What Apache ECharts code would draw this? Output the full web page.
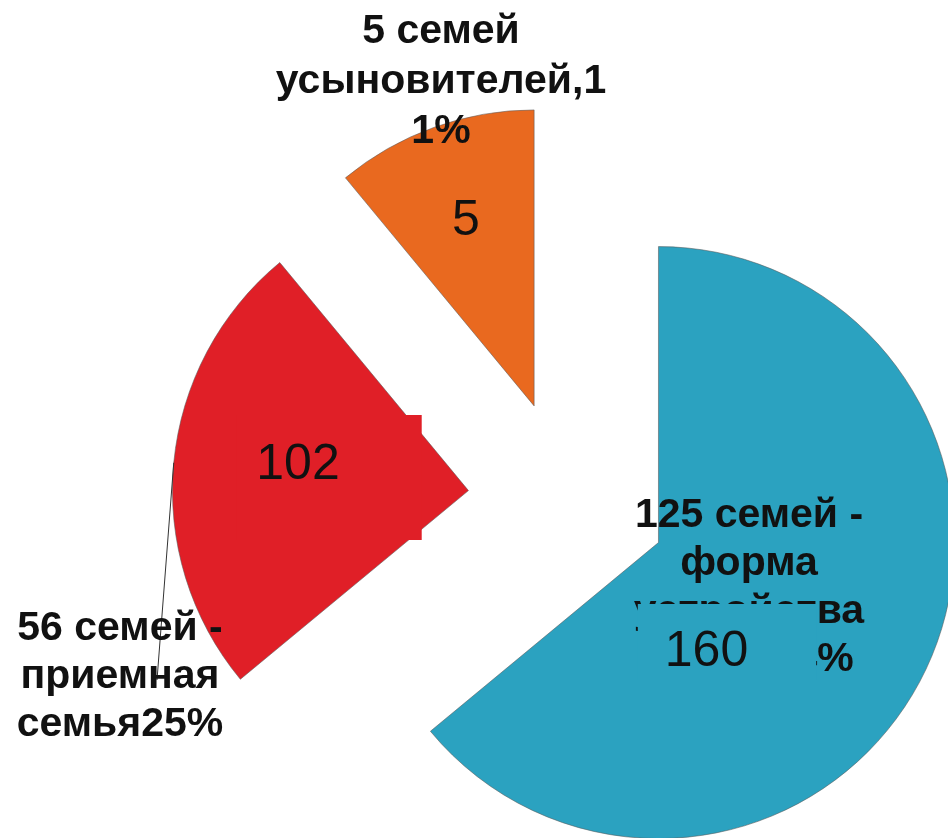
<!DOCTYPE html>
<html>
<head>
<meta charset="utf-8">
<title>Формы устройства</title>
<script src="https://cdn.jsdelivr.net/npm/echarts@6/dist/echarts.min.js"></script>
<style>
  html, body { margin: 0; padding: 0; background: #fff; }
  #main { width: 948px; height: 838px; }
</style>
</head>
<body>
<div id="main"></div>
<script>
// подписи секторов (переносы как на картинке)
const categories = [
  "125 семей -\nформа\nустройства\nопека 64%",
  "56 семей -\nприемная\nсемья25%",
  "5 семей\nусыновителей,1\n1%"
];
// доля сектора, %
const shares = [64, 25, 11];
// числа внутри секторов
const counts = [160, 102, 5];

const colors = ["#2ba2c0", "#e01f27", "#e9691f"];

// центры текстовых подписей
const outerLabelPos = [[749, 588], [120, 677], [441, 82]];
const outerLineHeight = [48, 48, 50];
// числа: x центра, y верхнего края фона
const innerLabelPos = [[727, 604], [329, 415], [466, 197]];
// фон у чисел цвета сектора (перекрывает подпись, как в исходнике)
const innerLabelBox = [
  { backgroundColor: colors[0], padding: [24, 68, 4, 27] },
  { backgroundColor: colors[1], padding: [26, 82, 51, 20] },
  { padding: 0 }
];
const leaderEnd = [157, 680];

const pieCenter = [568, 500];
const pieRadius = 296;
const explode = 100;

const font = "'Liberation Sans', Arial, sans-serif";

// сдвиг выдвинутого сектора (по середине его угла)
const total = shares.reduce((a, b) => a + b, 0);
let acc = 0;
const shift = shares.map(v => {
  let mid = (acc + v / 2) / total * Math.PI * 2;
  acc += v;
  return [explode * Math.sin(mid), -explode * Math.cos(mid)];
});

let chart = echarts.init(document.getElementById('main'), null, { renderer: 'canvas' });

const pieBase = {
  type: 'pie',
  center: pieCenter,
  radius: pieRadius,
  startAngle: 90,
  clockwise: true,
  avoidLabelOverlap: false,
  animation: false,
  emphasis: { disabled: true }
};

const clear = 'rgba(0,0,0,0)';

let option = {
  backgroundColor: '#fff',
  animation: false,
  series: [
    //сектора (выдвинуты все)
    Object.assign({}, pieBase, {
      name: 'sectors',
      z: 2,
      selectedMode: 'multiple',
      selectedOffset: explode,
      itemStyle: { borderColor: 'rgba(90,90,90,0.55)', borderWidth: 1 },
      select: { itemStyle: { borderColor: 'rgba(90,90,90,0.55)', borderWidth: 1 } },
      label: { show: false },
      labelLine: { show: false },
      data: categories.map((name, i) => ({
        name: name,
        value: shares[i],
        selected: true,
        itemStyle: { color: colors[i] }
      }))
    }),
    //текстовые подписи
    Object.assign({}, pieBase, {
      name: 'labels',
      z: 3,
      silent: true,
      itemStyle: { color: clear },
      label: {
        show: true,
        position: 'outside',
        formatter: '{b}',
        fontFamily: font,
        fontSize: 41,
        fontWeight: 'bold',
        color: '#111'
      },
      labelLine: {
        show: false,
        length: 10,
        length2: 10,
        lineStyle: { color: '#333', width: 1 }
      },
      labelLayout: function (params) {
        let i = params.dataIndex;
        let p = outerLabelPos[i];
        let res = { x: p[0], y: p[1], align: 'center', verticalAlign: 'middle' };
        if (i === 1 && params.labelLinePoints) {
          let a = params.labelLinePoints[0];
          let s = [a[0] + shift[i][0], a[1] + shift[i][1]];
          res.labelLinePoints = [s, s, leaderEnd];
        }
        return res;
      },
      data: categories.map((name, i) => ({
        name: name,
        value: shares[i],
        label: { lineHeight: outerLineHeight[i] },
        labelLine: { show: i === 1 }
      }))
    }),
    //числа внутри
    Object.assign({}, pieBase, {
      name: 'numbers',
      z: 4,
      silent: true,
      itemStyle: { color: clear },
      label: {
        show: true,
        position: 'inside',
        fontFamily: font,
        fontSize: 50,
        lineHeight: 48,
        color: '#111'
      },
      labelLine: { show: false },
      labelLayout: function (params) {
        let p = innerLabelPos[params.dataIndex];
        return { x: p[0], y: p[1], align: 'center', verticalAlign: 'top' };
      },
      data: categories.map((name, i) => ({
        name: name,
        value: shares[i],
        label: Object.assign({ formatter: String(counts[i]) }, innerLabelBox[i])
      }))
    })
  ]
};

chart.setOption(option);
</script>
</body>
</html>
